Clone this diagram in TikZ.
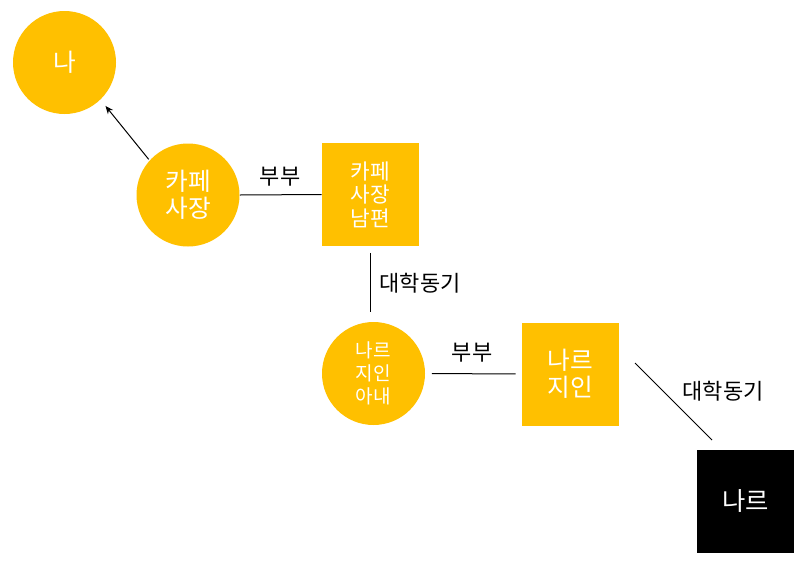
\documentclass[tikz,border=0pt]{standalone}
\usepackage{fontspec}
\setmainfont{Noto Sans CJK KR}
\usetikzlibrary{arrows.meta}
\definecolor{gold}{HTML}{FFC000}

\tikzset{
  person/.style={circle, fill=gold, text=white, minimum size=77.25pt,
    inner sep=0pt, align=center},
  personbox/.style={rectangle, fill=gold, text=white, minimum width=72.75pt,
    minimum height=77.25pt, inner sep=0pt, align=center},
  rel/.style={font=\fontsize{16.5}{18}\selectfont},
  link/.style={line width=0.75pt},
}

\begin{document}
\begin{tikzpicture}[x=0.75pt,y=-0.75pt]
  \useasboundingbox (0,0) rectangle (810,568);

  % People
  \node[person, font=\fontsize{18.5}{20}\selectfont] (me) at (64.5,62.5) {나};
  \node[person, font=\fontsize{18.5}{20.5}\selectfont] (owner) at (188,195) {카페\\사장};
  \node[personbox, font=\fontsize{16}{17.6}\selectfont] (husband) at (370.5,194.5) {카페\\사장\\남편};
  \node[person, font=\fontsize{14.3}{17}\selectfont] (wife) at (373.5,373.5) {나르\\지인\\아내};
  \node[personbox, font=\fontsize{18.5}{20.5}\selectfont] (friend) at (570.5,374) {나르\\지인};
  \node[personbox, fill=black, font=\fontsize{19}{20}\selectfont] (naru) at (745.5,501) {나르};

  % Free ends of the last line
  \coordinate (d1) at (635,363);
  \coordinate (d2) at (712,440);

  % Connectors
  \draw[link, -{Stealth[length=6pt,width=5pt]}, shorten >=6pt, shorten <=1pt]
    (owner.138) -- (me.-46);
  \draw[link] (owner.east) -- (husband.west);
  \draw[link, shorten <=5pt, shorten >=7pt] (husband.south) -- (husband.south |- wife.north);
  \draw[link, shorten <=5pt, shorten >=4.5pt] (wife.east) -- (friend.west);
  \draw[link] (d1) -- (d2);

  % Labels
  \node[rel] (l1) at (280,177) {부부};
  \node[rel] (l2) at (420,283) {대학동기};
  \node[rel] (l3) at (472,353) {부부};
  \node[rel] (l4) at (723,391) {대학동기};
\end{tikzpicture}
\end{document}
